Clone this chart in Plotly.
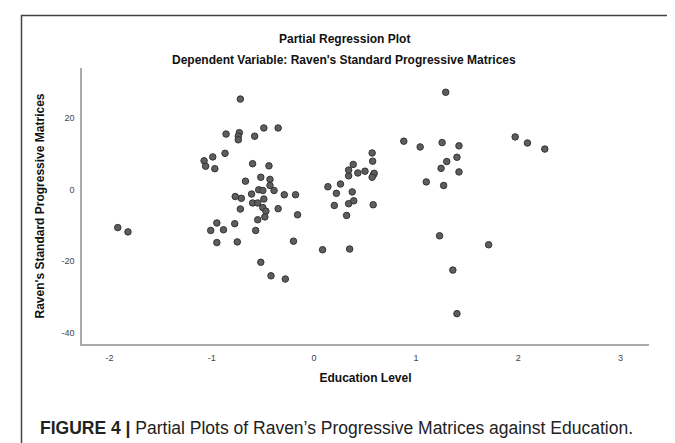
import plotly.graph_objects as go

# Data
education = [
    -1.92, -1.82,
    -1.075, -1.06, -0.99, -0.97, -0.87, -0.86, -0.77, -0.95, -1.01, -0.885, -0.775, -0.95, -0.75,
    -0.72, -0.73, -0.74, -0.74, -0.67, -0.71, -0.72,
    -0.58, -0.49, -0.35, -0.60, -0.44, -0.52, -0.43, -0.43, -0.39, -0.54, -0.50, -0.61, -0.29,
    -0.18, -0.49, -0.60, -0.55, -0.50, -0.47, -0.35, -0.16, -0.48, -0.55, -0.57, -0.20, -0.52,
    -0.42, -0.28,
    0.085, 0.35, 0.137, 0.22, 0.26, 0.20, 0.32, 0.375, 0.34, 0.39, 0.34, 0.34, 0.385, 0.43,
    0.50, 0.57, 0.575, 0.585, 0.59, 0.57, 0.58,
    0.88, 1.04, 1.10, 1.23, 1.29, 1.255, 1.42, 1.40, 1.30, 1.245, 1.42, 1.27, 1.71, 1.97,
    2.09, 2.26, 1.36, 1.40,
]
ravens = [
    -10.6, -11.8,
    8.1, 6.6, 9.2, 5.9, 10.2, 15.6, -1.9, -9.3, -11.4, -11.2, -9.5, -14.8, -14.6,
    25.4, 16.0, 15.0, 14.0, 2.4, -2.4, -5.4,
    15.0, 17.3, 17.3, 7.3, 6.7, 3.5, 2.9, 1.2, -0.2, 0.0, -0.2, -1.2, -1.4,
    -1.4, -2.6, -3.7, -3.7, -5.0, -6.0, -5.3, -7.0, -7.6, -8.4, -11.4, -14.4, -20.3,
    -24.1, -25.0,
    -16.8, -16.6, 0.85, -1.0, 1.6, -4.4, -7.2, -0.6, -3.9, -3.1, 3.9, 5.5, 7.1, 4.7,
    5.2, 10.3, 8.0, 4.3, 4.6, 3.5, -4.2,
    13.6, 12.0, 2.2, -12.9, 27.3, 13.2, 12.3, 9.1, 7.9, 6.0, 5.0, 1.2, -15.4, 14.8,
    13.1, 11.4, -22.5, -34.7,
]
x_tickvals = [-2, -1, 0, 1, 2, 3]
x_ticktext = ["-2", "-1", "0", "1", "2", "3"]
y_tickvals = [-40, -20, 0, 20]
y_ticktext = ["-40", "-20", "0", "20"]

title_text = "Partial Regression Plot"
subtitle_text = "Dependent Variable: Raven's Standard Progressive Matrices"
x_title = "Education Level"
y_title = "Raven's Standard Progressive Matrices"
caption = "<b>FIGURE 4 |</b> Partial Plots of Raven\u2019s Progressive Matrices against Education."

W, H = 675, 443
L, R, T, B = 74, 641, 60, 336
pw, ph = R - L, B - T


def px(x):
    return (x - L) / pw


def py(y):
    return (B - y) / ph


fig = go.Figure()
fig.add_trace(go.Scatter(
    x=education, y=ravens, mode="markers",
    marker=dict(size=6.5, color="#5e5e5e", line=dict(color="#333333", width=1)),
    hoverinfo="x+y", showlegend=False,
))

font = "Liberation Sans, Arial, sans-serif"
fig.update_layout(
    width=W, height=H,
    margin=dict(l=L, r=W - R, t=T, b=H - B, pad=0),
    paper_bgcolor="white", plot_bgcolor="white",
    font=dict(family=font, color="#222222"),
    xaxis=dict(
        range=[-2.27, 3.28], tickvals=x_tickvals, ticktext=x_ticktext,
        showgrid=False, zeroline=False, showline=True, linecolor="#aaaaaa", linewidth=1.5,
        ticks="", tickfont=dict(size=9, color="#444444"), ticklabelstandoff=4,
        title=dict(text="<b>" + x_title + "</b>", font=dict(size=12, color="#111111"), standoff=12),
    ),
    yaxis=dict(
        range=[-43.2, 34.1], tickvals=y_tickvals, ticktext=y_ticktext,
        showgrid=False, zeroline=False, showline=True, linecolor="#aaaaaa", linewidth=1.5,
        ticks="", tickfont=dict(size=9, color="#444444"), ticklabelstandoff=4,
        title=dict(text="<b>" + y_title + "</b>", font=dict(size=12, color="#111111"), standoff=14),
    ),
    shapes=[
        dict(type="rect", xref="paper", yref="paper",
             x0=px(13.5), x1=px(670), y0=py(460), y1=py(7.5),
             line=dict(color="#444444", width=1.5), layer="below"),
    ],
    annotations=[
        dict(text="<b>" + title_text + "</b>", xref="paper", yref="paper",
             x=px(336), y=py(31), xanchor="center", yanchor="middle", showarrow=False,
             font=dict(size=12, color="#111111")),
        dict(text="<b>" + subtitle_text + "</b>", xref="paper", yref="paper",
             x=px(336), y=py(52), xanchor="center", yanchor="middle", showarrow=False,
             font=dict(size=12, color="#111111")),
        dict(text=caption, xref="paper", yref="paper",
             x=px(30), y=py(420), xanchor="left", yanchor="middle", showarrow=False,
             font=dict(size=17.5, color="#222222")),
    ],
)

fig.write_html("out.html")
